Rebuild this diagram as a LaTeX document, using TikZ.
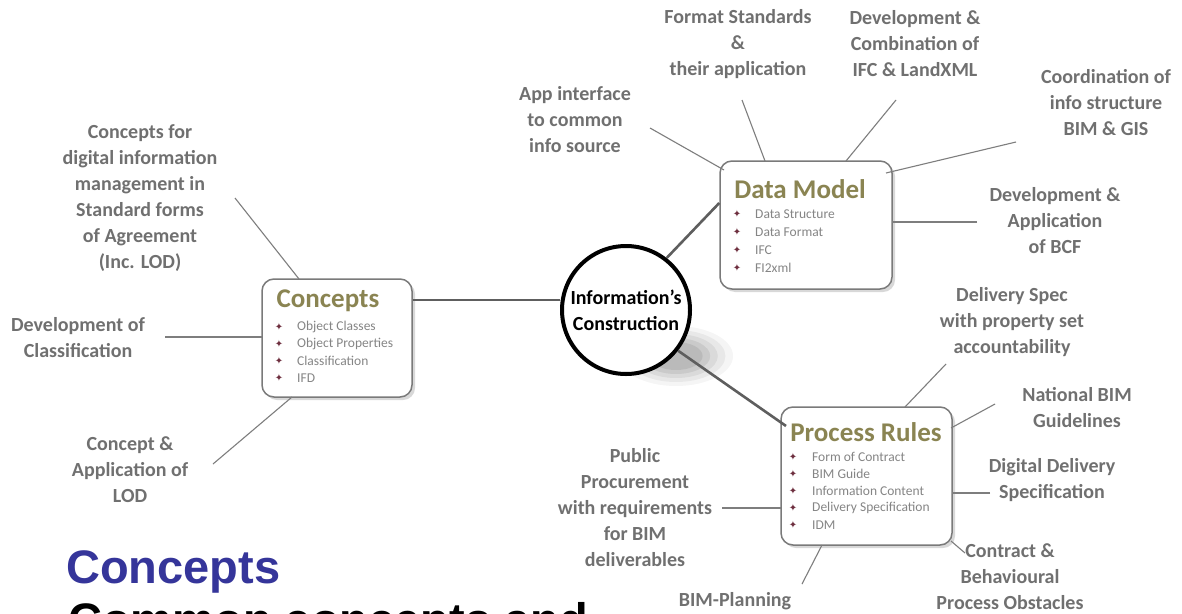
\documentclass[tikz,border=0pt]{standalone}
\usepackage{fontspec}
\setmainfont{Carlito}
\newfontfamily\arialf{Liberation Sans}
\newfontfamily\dejavu{DejaVu Sans}
\usetikzlibrary{shadows}
\definecolor{lblgray}{HTML}{707070}
\definecolor{itemgray}{HTML}{858585}
\definecolor{olive}{HTML}{8A8452}
\definecolor{bulletc}{HTML}{6E2F3F}
\definecolor{boxline}{HTML}{7A7A7A}
\definecolor{thickc}{HTML}{5E5E5E}
\definecolor{thinc}{HTML}{7E7E7E}
\definecolor{bluet}{HTML}{35359A}
\tikzset{
  lbl/.style={align=center, inner sep=0pt, text=lblgray, font=\fontsize{20}{26}\selectfont\bfseries},
  boxnode/.style={draw=boxline, line width=1.5pt, rounded corners=12pt, fill=white, inner sep=0pt,
    drop shadow={shadow xshift=3pt, shadow yshift=-3pt, opacity=0.3}},
  boxtitle/.style={inner sep=0pt, text=olive, font=\fontsize{27}{30}\selectfont\bfseries},
  item/.style={anchor=west, inner sep=0pt, text=itemgray, font=\fontsize{13.5}{15}\selectfont},
  bul/.style={inner sep=0pt, text=bulletc, font=\dejavu\fontsize{10}{11}\selectfont},
  thick link/.style={draw=thickc, line width=2.6pt},
  leader/.style={draw=thinc, line width=1.1pt},
}
\begin{document}
\begin{tikzpicture}[x=1pt,y=-1pt]
\useasboundingbox (0,0) rectangle (1182,613);
\fill[white] (0,0) rectangle (1182,613);

% shadow of centre circle (lower right)
\foreach \r/\o in {30/0.04,26/0.05,22/0.06,18/0.07,14/0.08}{
  \fill[black,opacity=\o] (676,356) ellipse ({\r*1.9} and \r);
}

% centre circle
\node[circle, draw=black, line width=4pt, fill=white, minimum size=128pt, inner sep=0pt,
      align=center, font=\fontsize{20}{26}\selectfont\bfseries] (core) at (626,310)
      {Information’s\\Construction};

% boxes
\node[boxnode, minimum width=150pt, minimum height=118pt] (cbox) at (337,338) {};
\node[boxnode, minimum width=172pt, minimum height=128pt] (dbox) at (806,225) {};
\node[boxnode, minimum width=171pt, minimum height=138pt] (pbox) at (866.5,476) {};

% Concepts box content
\node[boxtitle] (ctitle) at (328,301) {Concepts};
\foreach \t [count=\i] in {Object Classes,Object Properties,Classification,IFD}{
  \node[bul] (cb\i) at (279,310+17*\i) {✦};
  \node[item] (ci\i) at (297,310+17*\i) {\t};
}
% Data Model box content
\node[boxtitle] (dtitle) at (800,189) {Data Model};
\foreach \t [count=\i] in {Data Structure,Data Format,IFC,FI2xml}{
  \node[bul] (db\i) at (737,196+18*\i) {✦};
  \node[item] (di\i) at (755,196+18*\i) {\t};
}
% Process Rules box content
\node[boxtitle] (ptitle) at (866,432) {Process Rules};
\foreach \t [count=\i] in {Form of Contract,BIM Guide,Information Content,Delivery Specification,IDM}{
  \node[bul] (pb\i) at (793,440+17*\i) {✦};
  \node[item] (pi\i) at (812,440+17*\i) {\t};
}

% thick links
\draw[thick link] (cbox.east |- 0,300) coordinate (c1) -- (core.west |- 0,300);
\draw[thick link] (core.52) -- (dbox.south west |- 0,203) ;
\coordinate (pr1) at (786,426);
\draw[thick link] (core.-38) -- (pr1);

% labels
\node[lbl] (fmt) at (738,44) {Format Standards\\\&\\their application};
\node[lbl] (devifc) at (915,44) {Development \&\\Combination of\\IFC \& LandXML};
\node[lbl] (coord) at (1106,103) {Coordination of\\info structure\\BIM \& GIS};
\node[lbl] (app) at (575,120) {App interface\\to common\\info source};
\node[lbl] (bcf) at (1055,221) {Development \&\\Application\\of BCF};
\node[lbl] (delspec) at (1012,322) {Delivery Spec\\with property set\\accountability};
\node[lbl] (natbim) at (1077,408) {National BIM\\Guidelines};
\node[lbl] (digdel) at (1052,480) {Digital Delivery\\Specification};
\node[lbl] (contract) at (1010,577) {Contract \&\\Behavioural\\Process Obstacles};
\node[lbl] (bimplan) at (735,601) {BIM-Planning};
\node[lbl] (public) at (635,508) {Public\\Procurement\\with requirements\\for BIM\\deliverables};
\node[lbl] (concfor) at (140,198) {Concepts for\\digital information\\management in\\Standard forms\\of Agreement\\(Inc. LOD)};
\node[lbl] (devclass) at (78,338) {Development of\\Classification};
\node[lbl] (concapp) at (130,470) {Concept \&\\Application of\\LOD};

% leader end points
\coordinate (l-app) at (650,128);   \coordinate (b-app) at (724,170);
\coordinate (l-fmt) at (742,100);   \coordinate (b-fmt) at (765,161);
\coordinate (l-dev) at (896,100);   \coordinate (b-dev) at (846,161);
\coordinate (l-coo) at (1016,142);  \coordinate (b-coo) at (886,173);
\coordinate (l-bcf) at (977,222);   \coordinate (b-bcf) at (892,222);
\coordinate (l-del) at (946,364);   \coordinate (b-del) at (905,407);
\coordinate (l-nat) at (995,404);   \coordinate (b-nat) at (951,428);
\coordinate (l-dig) at (990,493);   \coordinate (b-dig) at (952,493);
\coordinate (l-con) at (965,553);   \coordinate (b-con) at (951,541);
\coordinate (l-bim) at (802,584);   \coordinate (b-bim) at (822,545);
\coordinate (l-pub) at (722,508);   \coordinate (b-pub) at (781,508);
\coordinate (l-cf)  at (235,198);   \coordinate (b-cf)  at (299,279);
\coordinate (l-dc)  at (165,337);   \coordinate (b-dc)  at (262,337);
\coordinate (l-ca)  at (213,464);   \coordinate (b-ca)  at (292,397);

\foreach \a in {app,fmt,dev,coo,bcf,del,nat,dig,con,bim,pub,cf,dc,ca}{
  \draw[leader] (l-\a) -- (b-\a);
}

% bottom texts (second line is cut by the lower edge, as in the reference)
\node[anchor=base west, inner sep=0pt, text=bluet, font=\arialf\bfseries\fontsize{47}{50}\selectfont] (cap1) at (66,583) {Concepts};
\node[anchor=base west, inner sep=0pt, text=black, font=\arialf\bfseries\fontsize{47}{50}\selectfont] (cap2) at (68,636) {Common concepts and};
\end{tikzpicture}
\end{document}
